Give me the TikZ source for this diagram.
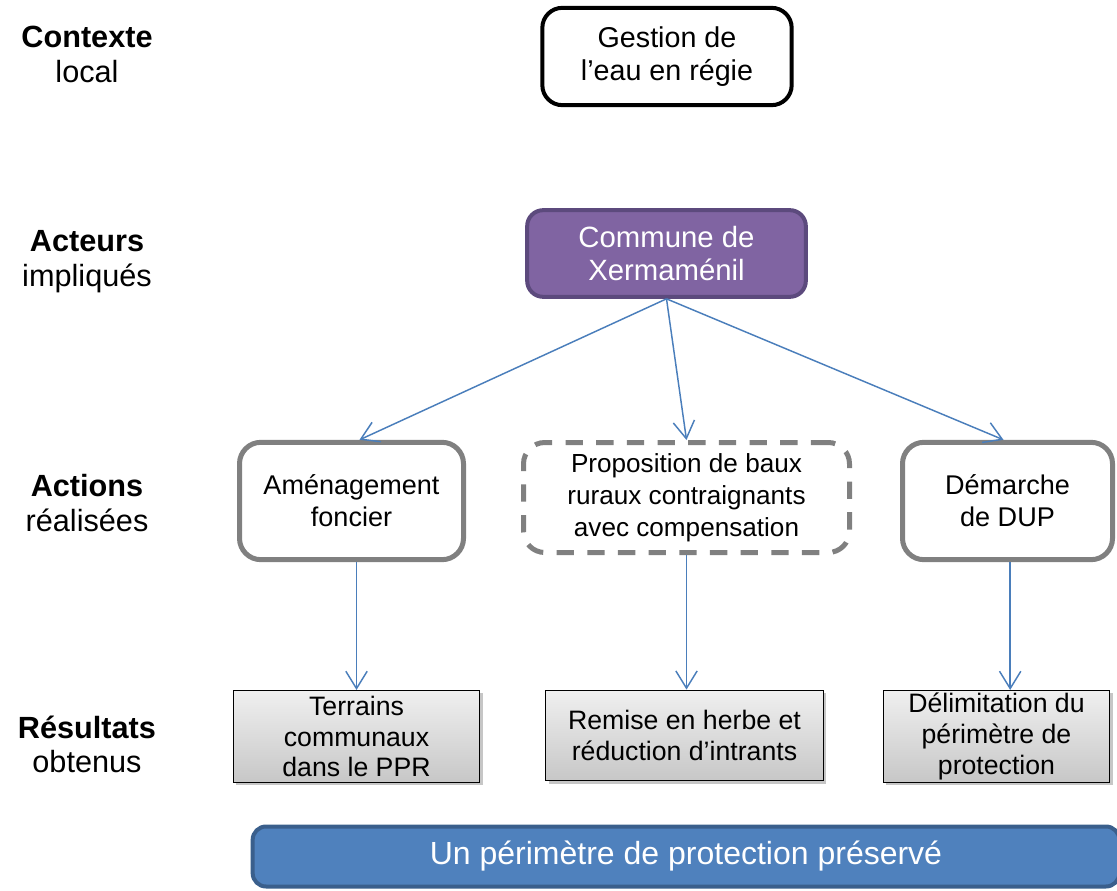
\documentclass[tikz,border=0pt]{standalone}
\usepackage{fontspec}
\setmainfont{Liberation Sans}
\usetikzlibrary{arrows.meta,shadows}

\definecolor{linkblue}{HTML}{4A7EBB}
\definecolor{actfill}{HTML}{8064A2}
\definecolor{actdraw}{HTML}{5C4A7D}
\definecolor{goalfill}{HTML}{4F81BD}
\definecolor{goaldraw}{HTML}{3A5F8C}
\definecolor{boxgray}{HTML}{808080}

\begin{document}
\begin{tikzpicture}[x=0.75pt, y=-0.75pt,
  rowlabel/.style={align=center, font=\fontsize{23}{26}\selectfont},
  context/.style={draw=black, line width=3pt, rounded corners=15pt, align=center,
    minimum width=187pt, minimum height=73pt, font=\fontsize{21.5}{25}\selectfont},
  actor/.style={draw=actdraw, fill=actfill, line width=3pt, rounded corners=12pt, align=center,
    text=white, minimum width=209pt, minimum height=65pt, font=\fontsize{22}{25}\selectfont},
  action/.style={draw=boxgray, line width=3.75pt, rounded corners=16pt, align=center,
    minimum height=88pt, font=\fontsize{20.3}{24}\selectfont},
  result/.style={draw=black, line width=0.8pt, top color=white!94!black, bottom color=white!78!black,
    drop shadow={opacity=0.45, shadow xshift=2pt, shadow yshift=-2pt},
    align=center, minimum height=69pt, inner sep=1pt, font=\fontsize{20}{23}\selectfont},
  link/.style={draw=linkblue, line width=1.1pt, -{Straight Barb[length=13pt, width=16pt]}}]

  \useasboundingbox (0,0) rectangle (1117,891);

  % Row labels
  \node[rowlabel] (L1) at (87,54.5) {\textbf{Contexte}\\local};
  \node[rowlabel] (L2) at (87,261.5) {\textbf{Acteurs}\\impliqués};
  \node[rowlabel] (L3) at (87,503) {\textbf{Actions}\\réalisées};
  \node[rowlabel] (L4) at (87,744.5) {\textbf{Résultats}\\obtenus};

  % Context and actor
  \node[context] (ctx) at (667,56.5) {Gestion de\\l’eau en régie};
  \node[actor] (commune) at (666.5,253.5) {Commune de\\Xermaménil};

  % Actions
  \node[action, minimum width=168pt] (act1) at (351.5,501) {Aménagement\\foncier};
  \node[action, minimum width=244.5pt, minimum height=82.5pt, dash pattern=on 13pt off 10pt,
    font=\fontsize{19.6}{24}\selectfont] (act2) at (686.5,497.5)
    {Proposition de baux\\ruraux contraignants\\avec compensation};
  \node[action, minimum width=157.5pt] (act3) at (1007.5,501) {Démarche\\de DUP};

  % Results
  \node[result, minimum width=185pt] (res1) at (356.5,736.5) {Terrains\\communaux\\dans le PPR};
  \node[result, minimum width=208pt, minimum height=68pt] (res2) at (684.5,735.5)
    {Remise en herbe et\\réduction d’intrants};
  \node[result, minimum width=170pt] (res3) at (996.5,736.5)
    {Délimitation du\\périmètre de\\protection};

  % Outcome
  \node[draw=goaldraw, fill=goalfill, line width=3pt, rounded corners=10pt, text=white,
    minimum width=650pt, minimum height=45pt, font=\fontsize{24}{27}\selectfont]
    (goal) at (686,856.5) {Un périmètre de protection préservé};

  % Arrows from actor to actions
  \draw[link] (commune.south) -- ([xshift=6pt]act1.north);
  \draw[link] (commune.south) -- (act2.north);
  \draw[link] (commune.south) -- ([xshift=-3pt]act3.north);

  % Arrows from actions to results
  \draw[link] (act1.south -| res1.north) -- (res1.north);
  \draw[link] (act2.south) -- (act2.south |- res2.north);
  \draw[link] ([xshift=2pt]act3.south) -- ([xshift=2pt]act3.south |- res3.north);

\end{tikzpicture}
\end{document}
